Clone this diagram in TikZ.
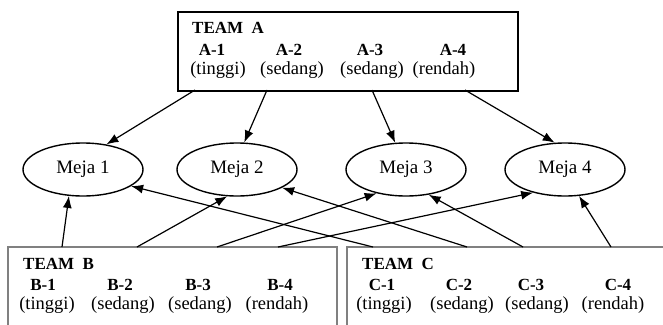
\documentclass[tikz,border=0pt]{standalone}
\usepackage{fontspec}
\setmainfont{Liberation Serif}
\usetikzlibrary{arrows.meta,shapes.geometric}
\begin{document}
\begin{tikzpicture}[x=1pt,y=-1pt,
  meja/.style={draw,ellipse,line width=1.4pt,minimum width=120pt,minimum height=53pt,inner sep=0pt,font=\fontsize{19}{22}\selectfont},
  lbl/.style={anchor=base,inner sep=0pt,font=\bfseries\fontsize{17}{20}\selectfont},
  lvl/.style={anchor=base,inner sep=0pt,font=\fontsize{18.5}{21}\selectfont},
  ttl/.style={anchor=base west,inner sep=0pt,font=\bfseries\fontsize{17}{20}\selectfont},
  conn/.style={line width=1.2pt,-{Latex[length=12pt,width=9pt]}},
  graybox/.style={draw=black!50,line width=1.4pt}]
\useasboundingbox (0,0) rectangle (663,324);

% Team A box
\node[draw,line width=1.5pt,anchor=north west,inner sep=0pt,minimum width=340pt,minimum height=79pt] (teamA) at (177,11) {};
\node[ttl] (tA) at (192,33) {TEAM\ \ A};
\node[lbl] (A1) at (212,55) {A-1};
\node[lbl] (A2) at (289,55) {A-2};
\node[lbl] (A3) at (370,55) {A-3};
\node[lbl] (A4) at (453,55) {A-4};
\node[lvl] (A1l) at (218,74) {(tinggi)};
\node[lvl] (A2l) at (292,74) {(sedang)};
\node[lvl] (A3l) at (372,74) {(sedang)};
\node[lvl] (A4l) at (444,74) {(rendah)};

% Team B box (open at bottom)
\draw[graybox] (8,330) -- (8,247) -- (337,247) -- (337,330);
\node[ttl] (tB) at (23,269) {TEAM\ \ B};
\node[lbl] (B1) at (43,290) {B-1};
\node[lbl] (B2) at (120,290) {B-2};
\node[lbl] (B3) at (198,290) {B-3};
\node[lbl] (B4) at (280,290) {B-4};
\node[lvl] (B1l) at (47,309) {(tinggi)};
\node[lvl] (B2l) at (123,309) {(sedang)};
\node[lvl] (B3l) at (200,309) {(sedang)};
\node[lvl] (B4l) at (277,309) {(rendah)};

% Team C box (open at bottom and right)
\draw[graybox] (347,330) -- (347,247) -- (670,247);
\node[ttl] (tC) at (362,269) {TEAM\ \ C};
\node[lbl] (C1) at (382,290) {C-1};
\node[lbl] (C2) at (459,290) {C-2};
\node[lbl] (C3) at (531,290) {C-3};
\node[lbl] (C4) at (618,290) {C-4};
\node[lvl] (C1l) at (384,309) {(tinggi)};
\node[lvl] (C2l) at (462,309) {(sedang)};
\node[lvl] (C3l) at (537,309) {(sedang)};
\node[lvl] (C4l) at (613,309) {(rendah)};

% Tables
\node[meja] (m1) at (83,169.5) {Meja 1};
\node[meja] (m2) at (237,169.5) {Meja 2};
\node[meja] (m3) at (406,169.5) {Meja 3};
\node[meja] (m4) at (565,169.5) {Meja 4};

% connector start points
\coordinate (a1) at (195,90);
\coordinate (a2) at (267,90);
\coordinate (a3) at (372,90);
\coordinate (a4) at (465,90);
\coordinate (b1) at (62,247);
\coordinate (b2) at (137,247);
\coordinate (b3) at (217,247);
\coordinate (b4) at (278,247);
\coordinate (c1) at (373,247);
\coordinate (c2) at (467,247);
\coordinate (c3) at (523,247);
\coordinate (c4) at (611,247);

\draw[conn] (a1) -- (m1.47);
\draw[conn] (a2) -- (m2.75);
\draw[conn] (a3) -- (m3.112);
\draw[conn] (a4) -- (m4.111);

\draw[conn] (b1) -- (m1.242);
\draw[conn] (b2) -- (m2.250);
\draw[conn] (b3) -- (m3.219);
\draw[conn] (b4) -- (m4.216);

\draw[conn] (c1) -- (m1.-19);
\draw[conn] (c2) -- (m2.-22);
\draw[conn] (c3) -- (m3.-48);
\draw[conn] (c4) -- (m4.-62);
\end{tikzpicture}
\end{document}
